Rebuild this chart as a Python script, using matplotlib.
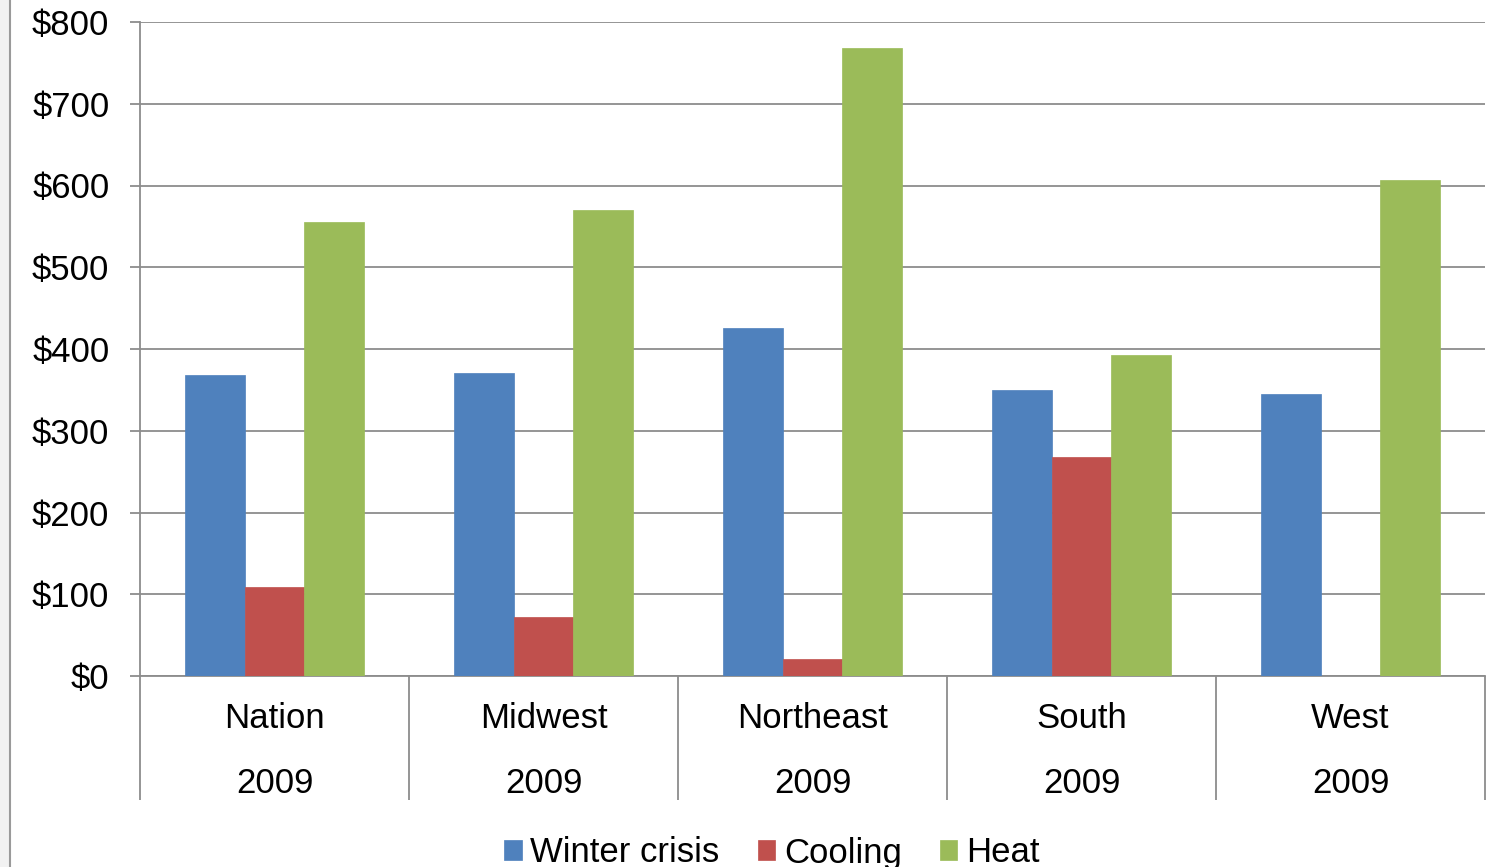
import matplotlib.pyplot as plt
import numpy as np
from matplotlib.lines import Line2D
from matplotlib.patches import Rectangle
from matplotlib.ticker import FuncFormatter

plt.rcParams['font.family'] = ['Liberation Sans', 'DejaVu Sans']

regions = ['Nation', 'Midwest', 'Northeast', 'South', 'West']
years = ['2009', '2009', '2009', '2009', '2009']
winter_crisis = [368, 371, 426, 350, 345]
cooling = [109, 72, 21, 268, 0]
heat = [555, 570, 768, 393, 607]

series = [('Winter crisis', winter_crisis, '#4F81BD'),
          ('Cooling', cooling, '#C0504D'),
          ('Heat', heat, '#9BBB59')]

W, H = 1486, 867
fig = plt.figure(figsize=(W / 100, H / 100), dpi=100)
fig.patch.set_facecolor('white')

# frame on the left edge
fig.add_artist(Rectangle((0, 0), 10 / W, 1, transform=fig.transFigure,
                         facecolor='#f2f2f2', edgecolor='none'))
fig.add_artist(Line2D([10 / W, 10 / W], [0, 1], transform=fig.transFigure,
                      color='#9a9a9a', lw=1.5))

ax = fig.add_axes([140 / W, 1 - 676 / H, (1485 - 140) / W, (676 - 22) / H])

x = np.arange(len(regions))
bw = 0.222
for i, (name, vals, col) in enumerate(series):
    ax.bar(x + (i - 1) * bw, vals, bw, color=col, edgecolor=col, lw=0.5,
           label=name, zorder=3)

ax.set_xlim(-0.5, len(regions) - 0.5)
ax.set_ylim(0, 800)
ax.set_yticks(np.arange(0, 801, 100))
ax.yaxis.set_major_formatter(FuncFormatter(lambda v, p: '${:.0f}'.format(v)))
ax.grid(axis='y', color='#8c8c8c', lw=1.3, zorder=0)

for s in ['top', 'right']:
    ax.spines[s].set_visible(False)
for s in ['left', 'bottom']:
    ax.spines[s].set_color('#8c8c8c')
    ax.spines[s].set_linewidth(1.3)

ax.tick_params(axis='y', length=7, color='#8c8c8c', width=1.3, labelsize=25, pad=15)

# category separators as long minor ticks
ax.set_xticks(np.arange(-0.5, len(regions), 1), minor=True)
ax.set_xticks([])
ax.tick_params(axis='x', which='minor', length=89, color='#8c8c8c', width=1.3)

for i, (r, yr) in enumerate(zip(regions, years)):
    ax.text(i, -52, r, ha='center', va='center', fontsize=25)
    ax.text(i, -132, yr, ha='center', va='center', fontsize=25)

leg = fig.legend(loc='center', bbox_to_anchor=(772 / W, 1 - 853 / H), ncol=3,
                 frameon=False, fontsize=25, handlelength=0.5, handleheight=0.5,
                 handletextpad=0.25, columnspacing=1.1)

fig.savefig('out.png', dpi=100)
